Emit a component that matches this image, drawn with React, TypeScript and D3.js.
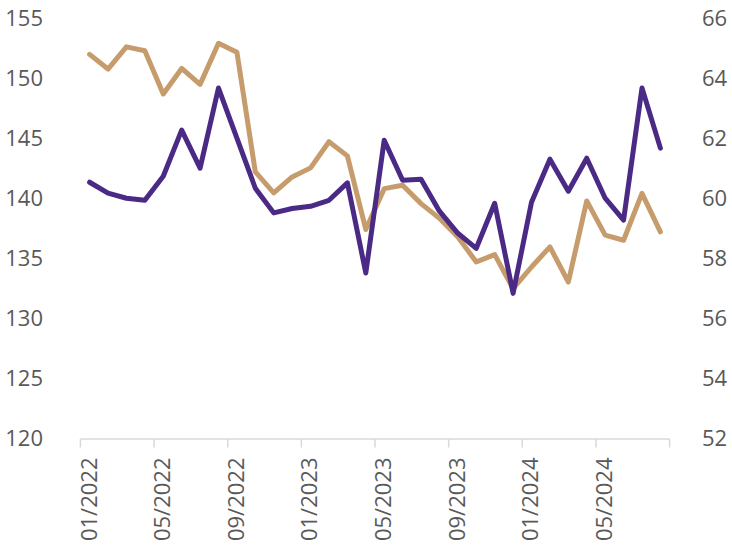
import React, { useEffect, useRef } from "react";
import * as d3 from "d3";

const months: string[] = [];
for (let y = 2022; y <= 2024; y++) {
  for (let m = 1; m <= 12; m++) {
    if (y === 2024 && m > 8) break;
    months.push(`${String(m).padStart(2, "0")}/${y}`);
  }
}

const purpleSeries = [
  141.33, 140.42, 140.0, 139.83, 141.83, 145.67, 142.5, 149.17, 145.0, 140.83,
  138.78, 139.14, 139.33, 139.83, 141.28, 133.78, 144.83, 141.5, 141.58, 138.92,
  137.08, 135.83, 139.58, 132.08, 139.67, 143.25, 140.58, 143.33, 140.0, 138.17,
  149.17, 144.17,
];

const tanSeries = [
  64.79, 64.3, 65.04, 64.91, 63.47, 64.32, 63.79, 65.16, 64.86, 60.88,
  60.18, 60.71, 61.01, 61.88, 61.41, 58.96, 60.32, 60.43, 59.82, 59.33,
  58.71, 57.88, 58.12, 56.99, 57.71, 58.38, 57.21, 59.91, 58.77, 58.6,
  60.16, 58.88,
];

const leftTicks = [120, 125, 130, 135, 140, 145, 150, 155];
const rightTicks = [52, 54, 56, 58, 60, 62, 64, 66];

const W = 732;
const H = 548;
const FONT = "'Open Sans', 'Noto Sans', sans-serif";
const FS = 22;

export default function App() {
  const ref = useRef<SVGSVGElement>(null);

  useEffect(() => {
    const svg = d3.select(ref.current);
    svg.selectAll("*").remove();

    const left = 80.4;
    const right = 669.6;
    const top = 18;
    const bottom = 438.5;

    const x = d3.scaleBand<string>().domain(months).range([left, right]).padding(0);
    const yL = d3.scaleLinear().domain([120, 155]).range([bottom, top]);
    const yR = d3.scaleLinear().domain([52, 66]).range([bottom, top]);
    const cx = (i: number) => (x(months[i]) as number) + x.bandwidth() / 2;

    svg
      .append("g")
      .selectAll("text")
      .data(leftTicks)
      .join("text")
      .attr("x", 43)
      .attr("y", (d) => yL(d))
      .attr("dy", "0.35em")
      .attr("text-anchor", "end")
      .attr("font-family", FONT)
      .attr("font-size", FS)
      .attr("fill", "#595959")
      .text((d) => d);

    svg
      .append("g")
      .selectAll("text")
      .data(rightTicks)
      .join("text")
      .attr("x", 702)
      .attr("y", (d) => yR(d))
      .attr("dy", "0.35em")
      .attr("text-anchor", "start")
      .attr("font-family", FONT)
      .attr("font-size", FS)
      .attr("fill", "#595959")
      .text((d) => d);

    svg
      .append("line")
      .attr("x1", left)
      .attr("x2", right)
      .attr("y1", bottom + 0.5)
      .attr("y2", bottom + 0.5)
      .attr("stroke", "#d9d9d9")
      .attr("stroke-width", 1.5);

    const tickIdx = d3.range(0, months.length + 1, 4);
    svg
      .append("g")
      .selectAll("line")
      .data(tickIdx)
      .join("line")
      .attr("x1", (i) => left + i * x.bandwidth())
      .attr("x2", (i) => left + i * x.bandwidth())
      .attr("y1", bottom + 0.5)
      .attr("y2", bottom + 9)
      .attr("stroke", "#d9d9d9")
      .attr("stroke-width", 1.5);

    const labelIdx = d3.range(0, months.length, 4);
    svg
      .append("g")
      .selectAll("text")
      .data(labelIdx)
      .join("text")
      .attr("transform", (i) => `translate(${cx(i) - 0.8},${bottom + 19}) rotate(-90)`)
      .attr("dy", "0.35em")
      .attr("text-anchor", "end")
      .attr("font-family", FONT)
      .attr("font-size", FS)
      .attr("fill", "#595959")
      .text((i) => months[i]);

    const lineL = d3
      .line<number>()
      .x((_, i) => cx(i))
      .y((d) => yL(d));
    const lineR = d3
      .line<number>()
      .x((_, i) => cx(i))
      .y((d) => yR(d));

    svg
      .append("path")
      .datum(tanSeries)
      .attr("d", lineR)
      .attr("fill", "none")
      .attr("stroke", "#c69c6d")
      .attr("stroke-width", 5)
      .attr("stroke-linejoin", "round")
      .attr("stroke-linecap", "round");

    svg
      .append("path")
      .datum(purpleSeries)
      .attr("d", lineL)
      .attr("fill", "none")
      .attr("stroke", "#4b2a86")
      .attr("stroke-width", 5)
      .attr("stroke-linejoin", "round")
      .attr("stroke-linecap", "round");
  }, []);

  return (
    <svg
      ref={ref}
      width={W}
      height={H}
      style={{ position: "absolute", left: 0, top: 0, background: "#fff" }}
    />
  );
}
